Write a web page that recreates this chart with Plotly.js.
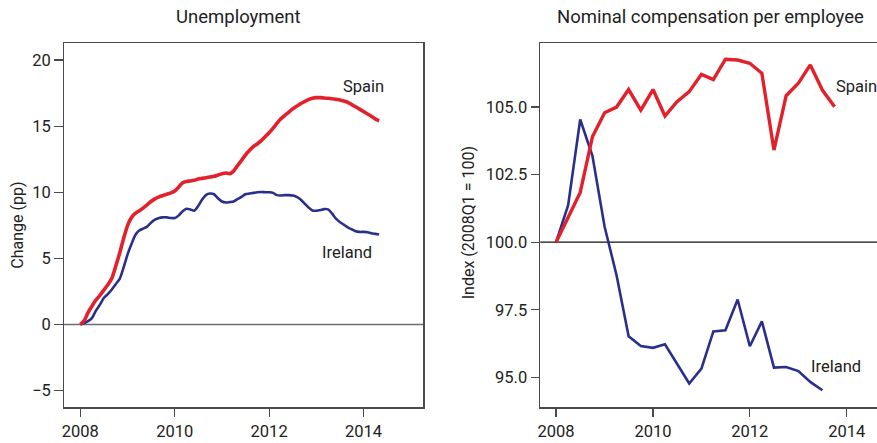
<!DOCTYPE html>
<html>
<head>
<meta charset="utf-8">
<script src="https://cdn.plot.ly/plotly-3.0.1.min.js"></script>
<style>html,body{margin:0;padding:0;background:#fff;}#chart{width:877px;height:443px;}</style>
</head>
<body>
<div id="chart"></div>
<script>
// Monthly dates (unemployment, change since 2008M1)
const months = [
"2008-01","2008-02","2008-03","2008-04","2008-05","2008-06","2008-07","2008-08","2008-09","2008-10","2008-11","2008-12",
"2009-01","2009-02","2009-03","2009-04","2009-05","2009-06","2009-07","2009-08","2009-09","2009-10","2009-11","2009-12",
"2010-01","2010-02","2010-03","2010-04","2010-05","2010-06","2010-07","2010-08","2010-09","2010-10","2010-11","2010-12",
"2011-01","2011-02","2011-03","2011-04","2011-05","2011-06","2011-07","2011-08","2011-09","2011-10","2011-11","2011-12",
"2012-01","2012-02","2012-03","2012-04","2012-05","2012-06","2012-07","2012-08","2012-09","2012-10","2012-11","2012-12",
"2013-01","2013-02","2013-03","2013-04","2013-05","2013-06","2013-07","2013-08","2013-09","2013-10","2013-11","2013-12",
"2014-01","2014-02","2014-03","2014-04","2014-05"];

const spainUnemp = [
0,0.3,0.9,1.4,1.85,2.2,2.6,3.0,3.5,4.4,5.4,6.5,
7.5,8.1,8.4,8.6,8.8,9.05,9.3,9.5,9.65,9.75,9.85,9.95,
10.1,10.4,10.7,10.82,10.85,10.9,11.0,11.05,11.1,11.15,11.2,11.3,
11.4,11.45,11.4,11.6,12.0,12.4,12.8,13.15,13.45,13.65,13.9,14.2,
14.5,14.85,15.2,15.55,15.8,16.05,16.3,16.5,16.7,16.85,17.0,17.1,
17.15,17.15,17.12,17.1,17.07,17.02,16.98,16.9,16.8,16.62,16.45,16.28,
16.1,15.92,15.75,15.55,15.4];

const irelandUnemp = [
0,0.1,0.25,0.5,1.05,1.5,2.0,2.3,2.65,3.05,3.45,4.3,
5.3,6.1,6.75,7.1,7.25,7.4,7.7,7.92,8.05,8.1,8.1,8.05,
8.05,8.25,8.55,8.75,8.7,8.6,8.95,9.45,9.8,9.9,9.85,9.55,
9.3,9.22,9.25,9.3,9.48,9.65,9.85,9.9,9.95,10.0,10.02,10.0,
10.0,9.95,9.78,9.75,9.78,9.78,9.75,9.65,9.45,9.15,8.85,8.62,
8.6,8.65,8.72,8.7,8.4,8.0,7.75,7.55,7.35,7.2,7.05,7.0,
7.0,6.98,6.9,6.85,6.8];

// Quarterly dates (compensation index, 2008Q1 = 100)
const quarters = [
"2008-01","2008-04","2008-07","2008-10","2009-01","2009-04","2009-07","2009-10",
"2010-01","2010-04","2010-07","2010-10","2011-01","2011-04","2011-07","2011-10",
"2012-01","2012-04","2012-07","2012-10","2013-01","2013-04","2013-07","2013-10"];

const spainComp = [100,100.95,101.84,103.9,104.79,105.0,105.65,104.89,
105.65,104.67,105.2,105.57,106.21,106.02,106.77,106.74,
106.62,106.25,103.41,105.42,105.88,106.56,105.63,105.01];

const irelandComp = [100,101.37,104.54,103.2,100.57,98.78,96.52,96.16,
96.09,96.22,95.5,94.77,95.32,96.70,96.74,97.88,
96.15,97.07,95.36,95.38,95.23,94.83,94.52];

const leftTicks = [-5,0,5,10,15,20];
const rightTicks = [95,97.5,100,102.5,105];
const xTickVals = ["2008-01-01","2010-01-01","2012-01-01","2014-01-01"];
const xTickText = ["2008","2010","2012","2014"];

const RED = "#e2212b", BLUE = "#2b2f8c", TXT = "#222222", AX = "#4a4a4a";
const FONT = "Roboto, 'Open Sans', sans-serif";

const traces = [
  {x: irelandUnemp.map((_, i) => months[i]), y: irelandUnemp, type: "scatter", mode: "lines",
   line: {color: BLUE, width: 2.6, shape: "spline", smoothing: 0.6}, xaxis: "x", yaxis: "y", hoverinfo: "skip"},
  {x: months, y: spainUnemp, type: "scatter", mode: "lines",
   line: {color: RED, width: 3.6, shape: "spline", smoothing: 0.6}, xaxis: "x", yaxis: "y", hoverinfo: "skip"},
  {x: quarters.slice(0, irelandComp.length), y: irelandComp, type: "scatter", mode: "lines",
   line: {color: BLUE, width: 2.6}, xaxis: "x2", yaxis: "y2", hoverinfo: "skip"},
  {x: quarters, y: spainComp, type: "scatter", mode: "lines",
   line: {color: RED, width: 3.4}, xaxis: "x2", yaxis: "y2", hoverinfo: "skip"}
];

const W = 877, H = 443;
const yDom = [(H - 407.3) / H, (H - 43.3) / H];
const axBase = {
  showgrid: false, zeroline: false, showline: true, linecolor: AX, linewidth: 1.3,
  ticks: "outside", ticklen: 8.5, tickwidth: 1.2, tickcolor: AX,
  tickfont: {family: FONT, size: 16.5, color: TXT}
};

const layout = {
  width: W, height: H, showlegend: false,
  margin: {l: 0, r: 0, t: 0, b: 0},
  paper_bgcolor: "#fff", plot_bgcolor: "#fff",
  font: {family: FONT, color: TXT},
  xaxis: Object.assign({}, axBase, {type: "date", domain: [64 / W, 423.3 / W],
    range: ["2007-08-28", "2015-04-08"], tickvals: xTickVals, ticktext: xTickText,
    mirror: true, anchor: "y"}),
  yaxis: Object.assign({}, axBase, {domain: yDom, range: [-6.26, 21.26],
    tickvals: leftTicks, ticktext: leftTicks.map(v => v < 0 ? "\u2212" + Math.abs(v) : String(v)),
    mirror: true, anchor: "x"}),
  xaxis2: Object.assign({}, axBase, {type: "date", domain: [540.3 / W, 1],
    range: ["2007-09-04", "2014-08-17"], tickvals: xTickVals, ticktext: xTickText,
    mirror: true, anchor: "y2"}),
  yaxis2: Object.assign({}, axBase, {domain: yDom, range: [93.89, 107.36],
    tickvals: rightTicks, ticktext: rightTicks.map(v => v.toFixed(1)), anchor: "x2"}),
  shapes: [
    {type: "line", xref: "x domain", yref: "y", x0: 0, x1: 1, y0: 0, y1: 0,
     line: {color: "#6e6e6e", width: 1.6}, layer: "below"},
    {type: "line", xref: "x2 domain", yref: "y2", x0: 0, x1: 1, y0: 100, y1: 100,
     line: {color: "#111111", width: 1.2}, layer: "below"}
  ],
  annotations: [
    {text: "Unemployment", xref: "paper", yref: "paper", x: 238 / W, y: 1 - 17.5 / H,
     xanchor: "center", yanchor: "middle", showarrow: false, font: {family: FONT, size: 18.5, color: TXT}},
    {text: "Nominal compensation per employee", xref: "paper", yref: "paper", x: 710.7 / W, y: 1 - 17.5 / H,
     xanchor: "center", yanchor: "middle", showarrow: false, font: {family: FONT, size: 18.5, color: TXT}},
    {text: "Change (pp)", xref: "paper", yref: "paper", x: 16.7 / W, y: 1 - 225 / H, textangle: -90,
     xanchor: "center", yanchor: "middle", showarrow: false, font: {family: FONT, size: 16, color: TXT}},
    {text: "Index (2008Q1 = 100)", xref: "paper", yref: "paper", x: 469.3 / W, y: 1 - 223 / H, textangle: -90,
     xanchor: "center", yanchor: "middle", showarrow: false, font: {family: FONT, size: 16, color: TXT}},
    {text: "Spain", xref: "x", yref: "y", x: "2014-01-01", y: 17.98, xanchor: "center", yanchor: "middle",
     showarrow: false, font: {family: FONT, size: 16.5, color: TXT}},
    {text: "Ireland", xref: "x", yref: "y", x: "2013-08-25", y: 5.42, xanchor: "center", yanchor: "middle",
     showarrow: false, font: {family: FONT, size: 16.5, color: TXT}},
    {text: "Spain", xref: "x2", yref: "y2", x: "2013-09-27", y: 105.77, xanchor: "left", yanchor: "middle",
     showarrow: false, font: {family: FONT, size: 16.5, color: TXT}},
    {text: "Ireland", xref: "x2", yref: "y2", x: "2013-10-15", y: 95.41, xanchor: "center", yanchor: "middle",
     showarrow: false, font: {family: FONT, size: 16.5, color: TXT}}
  ]
};

Plotly.newPlot("chart", traces, layout, {staticPlot: true, displayModeBar: false});
</script>
</body>
</html>
